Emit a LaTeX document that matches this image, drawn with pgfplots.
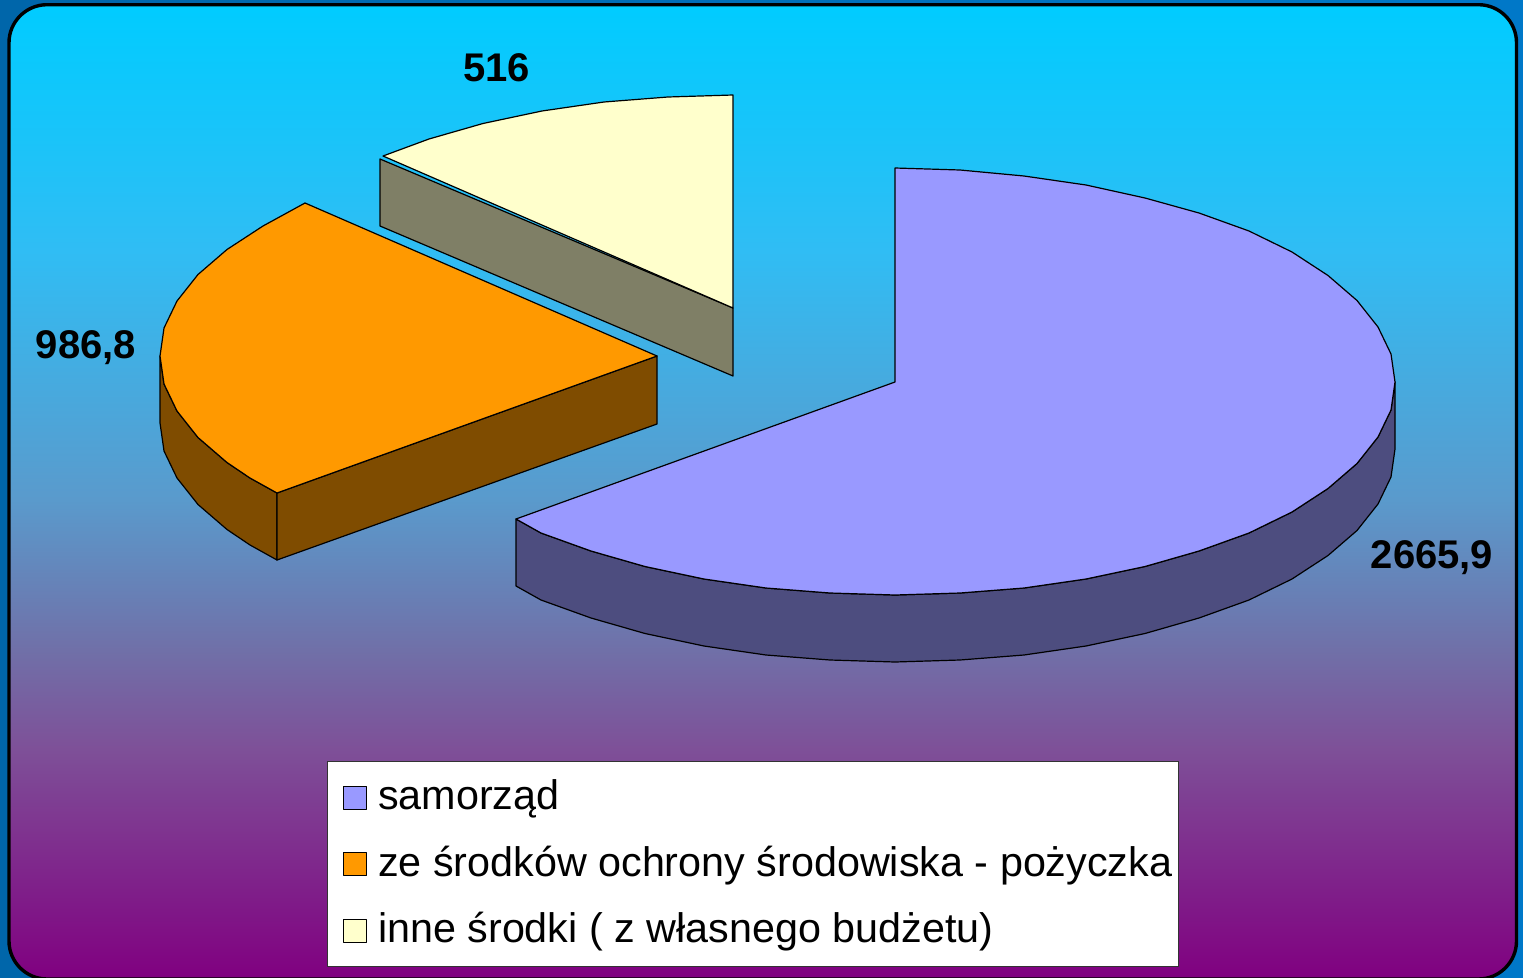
\documentclass[border=0pt]{standalone}
\usepackage{fontspec}
\setmainfont{Liberation Sans}
\usepackage{pgfplots}
\pgfplotsset{compat=1.18}
\definecolor{outerblue}{HTML}{0066AA}
\definecolor{outerblueR}{HTML}{0078C8}
\definecolor{purpletop}{HTML}{9999FF}
\definecolor{purpleside}{HTML}{4D4D7F}
\definecolor{orangetop}{HTML}{FF9900}
\definecolor{orangeside}{HTML}{7F4C00}
\definecolor{creamtop}{HTML}{FFFFCC}
\definecolor{creamside}{HTML}{7F7F66}
\pgfdeclareverticalshading{bggrad}{100bp}{
 color(0bp)=(rgb,255:red,128;green,0;blue,128);
 color(25bp)=(rgb,255:red,128;green,0;blue,128);
 color(36.8bp)=(rgb,255:red,126;green,80;blue,152);
 color(41.9bp)=(rgb,255:red,112;green,112;blue,168);
 color(49.6bp)=(rgb,255:red,90;green,154;blue,204);
 color(62.4bp)=(rgb,255:red,48;green,189;blue,244);
 color(75bp)=(rgb,255:red,0;green,204;blue,255);
 color(100bp)=(rgb,255:red,0;green,204;blue,255)}
\begin{document}
\begin{tikzpicture}
\useasboundingbox (0,0) rectangle (1523pt,977pt);
\begin{axis}[
  scale only axis, width=1523pt, height=977pt,
  xmin=0, xmax=1523, ymin=0, ymax=977, y dir=reverse,
  hide axis,
  legend cell align=left,
  legend image code/.code={\path (0pt,-23pt) (0pt,0pt); \draw[line width=1pt,#1] (12.6pt,-14pt) rectangle (35.6pt,9pt);},
  legend style={
    at={(axis cs:327,761)}, anchor=north west,
    draw=black!80, line width=0.8pt, fill=white,
    font=\fontsize{41.3}{48}\selectfont,
    inner xsep=3pt, inner ysep=15pt,
    row sep=24pt, column sep=8pt,
    nodes={inner xsep=3pt, inner ysep=3pt},
  },
  every axis plot/.append style={line width=1.2pt, line join=round, mark=none},
]
\shade[left color=outerblue, right color=outerblueR] (axis cs:0,0) rectangle (axis cs:1523,977);
\shade[shading=bggrad, rounded corners=38pt, draw=black, line width=3.4pt]
  (axis cs:9,4.7) rectangle (axis cs:1516.5,979);

% samorząd side
\addplot[draw=black, fill=purpleside, forget plot] coordinates {
 (1395,382)(1391,410)(1378,437)(1357,463.5)(1328,488.5)(1292,512)(1249,533)(1199,551)(1145,566.5)(1086,579)(1024,588)(960,593)(895,595)(830,593)(766,588)(704,579)(645,566.5)(591,551)(541,533)(516,519)
 (516,586)(541,600)(591,618)(645,633.5)(704,646)(766,655)(830,660)(895,662)(960,660)(1024,655)(1086,646)(1145,633.5)(1199,618)(1249,600)(1292,579)(1328,555.5)(1357,530.5)(1378,504)(1391,477)(1395,449)
} -- cycle;
% samorząd top
\addplot[draw=black, fill=purpletop] coordinates {
 (895,382)(895,168)(960,170)(1024,176)(1086,185)(1145,198)(1199,213)(1249,231)(1292,252)(1328,275.5)(1357,300.5)(1378,327)(1391,354)(1395,382)(1391,410)(1378,437)(1357,463.5)(1328,488.5)(1292,512)(1249,533)(1199,551)(1145,566.5)(1086,579)(1024,588)(960,593)(895,595)(830,593)(766,588)(704,579)(645,566.5)(591,551)(541,533)(516,519)
} -- cycle;

% środowisko sides
\addplot[draw=black, fill=orangeside, forget plot] coordinates {
 (160,356)(164,384)(177,411)(198,437.5)(227,462.5)(250,478)(277,493)(277,560)(250,545)(227,529.5)(198,504.5)(177,478)(164,451)(160,423)
} -- cycle;
\addplot[draw=black, fill=orangeside, forget plot] coordinates {
 (277,493)(657,356)(657,424)(277,560)
} -- cycle;
% środowisko top
\addplot[draw=black, fill=orangetop] coordinates {
 (657,356)(305,203)(263,226)(227,249.5)(198,274.5)(177,301)(164,328)(160,356)(164,384)(177,411)(198,437.5)(227,462.5)(250,478)(277,493)
} -- cycle;

% inne side
\addplot[draw=black, fill=creamside, forget plot] coordinates {
 (380,159)(733,308)(733,376)(380,226)
} -- cycle;
% inne top
\addplot[draw=black, fill=creamtop] coordinates {
 (733,308)(733,95)(668,97)(604,102)(542,111)(483,123.5)(429,139)(383,156)
} -- cycle;

\legend{samorząd, ze środków ochrony środowiska - pożyczka, inne środki ( z własnego budżetu)}

\node[font=\fontsize{40}{48}\selectfont\bfseries, anchor=center] at (axis cs:496.5,68) {516};
\node[font=\fontsize{40}{48}\selectfont\bfseries, anchor=center] at (axis cs:86,348) {986,8};
\node[font=\fontsize{40}{48}\selectfont\bfseries, anchor=center] at (axis cs:1432,558) {2665,9};
\end{axis}
\end{tikzpicture}
\end{document}
